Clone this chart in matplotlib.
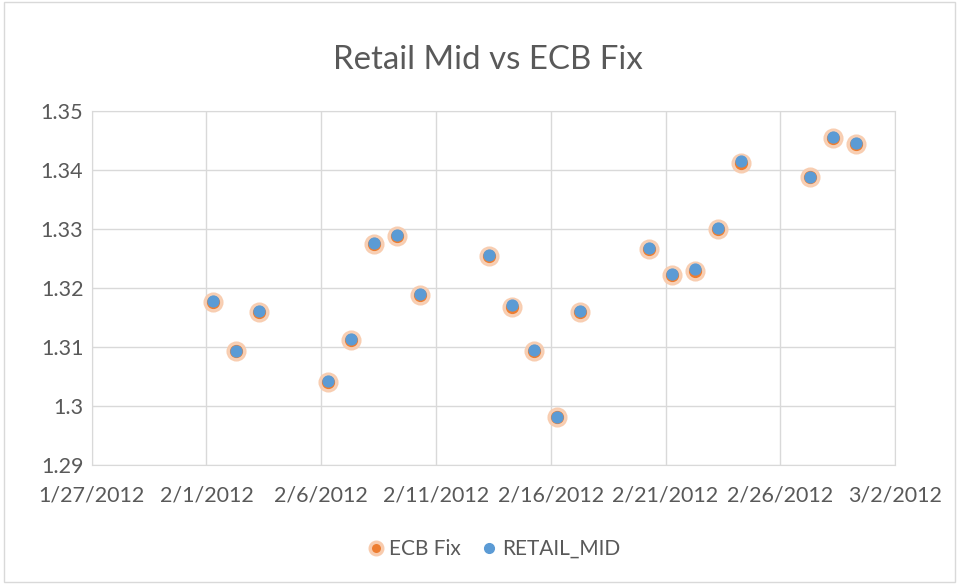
import matplotlib.pyplot as plt
import numpy as np
import datetime as dt

# trading days of Feb 2012 (points sit a few hours after midnight)
dates = ["2012-02-01", "2012-02-02", "2012-02-03",
         "2012-02-06", "2012-02-07", "2012-02-08", "2012-02-09", "2012-02-10",
         "2012-02-13", "2012-02-14", "2012-02-15", "2012-02-16", "2012-02-17",
         "2012-02-20", "2012-02-21", "2012-02-22", "2012-02-23", "2012-02-24",
         "2012-02-27", "2012-02-28", "2012-02-29"]

retail_mid = [1.3177, 1.3093, 1.3161,
              1.3042, 1.3113, 1.3275, 1.3290, 1.3190,
              1.3255, 1.3170, 1.3094, 1.2981, 1.3160,
              1.3268, 1.3223, 1.3231, 1.3301, 1.3414,
              1.3388, 1.3456, 1.3446]

ecb_fix = [1.3175, 1.3092, 1.3159,
           1.3041, 1.3111, 1.3274, 1.3288, 1.3188,
           1.3253, 1.3168, 1.3092, 1.2980, 1.3159,
           1.3266, 1.3222, 1.3229, 1.3300, 1.3412,
           1.3387, 1.3454, 1.3444]

x = [dt.datetime.strptime(d, "%Y-%m-%d") + dt.timedelta(hours=7) for d in dates]

plt.rcParams['font.family'] = ['Lato', 'DejaVu Sans']
txt = '#595959'

fig = plt.figure(figsize=(9.59, 5.84), dpi=100)
ax = fig.add_axes([0.0956, 0.2043, 0.8377, 0.6061])

# outer chart border
fig.patches.append(plt.Rectangle((0.004, 0.003), 0.992, 0.994, transform=fig.transFigure,
                                 fill=False, edgecolor='#d9d9d9', linewidth=1))

orange = '#ed7d31'
blue = '#5b9bd5'

# ECB fix with soft glow
ax.plot(x, ecb_fix, 'o', color='#f8cbad', markersize=13.5, alpha=0.9, zorder=3)
ax.plot(x, ecb_fix, 'o', color=orange, markersize=8.5, zorder=4)
ax.plot(x, retail_mid, 'o', color=blue, markersize=7.8, zorder=5)

ax.set_xlim(dt.datetime(2012, 1, 27), dt.datetime(2012, 3, 2))
ax.set_ylim(1.29, 1.35)
ticks = [dt.datetime(2012, 1, 27) + dt.timedelta(days=5 * i) for i in range(8)]
ax.set_xticks(ticks)
ax.set_xticklabels([f"{t.month}/{t.day}/{t.year}" for t in ticks])
yt = np.round(np.arange(1.29, 1.3501, 0.01), 2)
ax.set_yticks(yt)
ax.set_yticklabels([f"{v:g}" for v in yt])

ax.grid(True, color='#d9d9d9', linewidth=1)
ax.set_axisbelow(True)
for s in ax.spines.values():
    s.set_color('#d9d9d9')
ax.tick_params(length=0, labelsize=15.5, colors=txt)
ax.tick_params(axis='x', pad=15)
ax.tick_params(axis='y', pad=6)

fig.text(0.509, 0.897, "Retail Mid vs ECB Fix", ha='center', va='center', fontsize=23.8, color=txt)

h1 = ax.plot([], [], 'o', color=orange, markersize=9, markeredgecolor='#f8cbad',
             markeredgewidth=2.5)[0]
h2 = ax.plot([], [], 'o', color=blue, markersize=7)[0]
fig.legend([h1, h2], ["ECB Fix", "RETAIL_MID"], loc='center', bbox_to_anchor=(0.514, 0.06),
           ncol=2, frameon=False, fontsize=15, labelcolor=txt, handletextpad=0.1,
           columnspacing=0.9, handlelength=1.0)

fig.savefig("out.png", dpi=100)
